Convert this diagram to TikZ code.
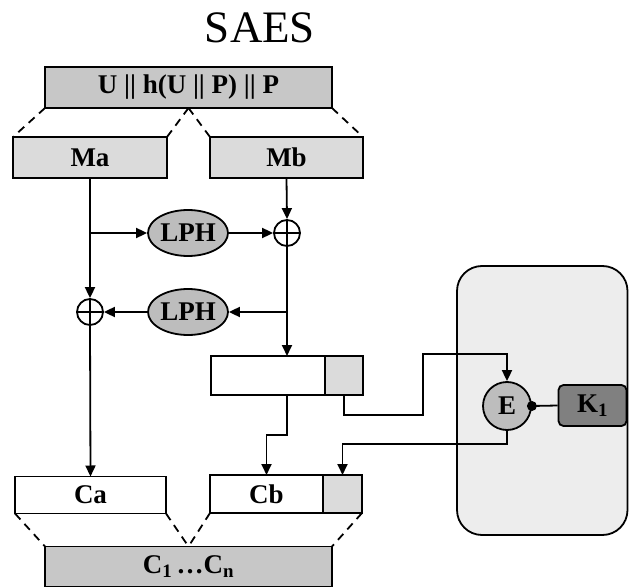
\documentclass[tikz,border=0pt]{standalone}
\usepackage{fontspec}
\setmainfont{Liberation Serif}
\usetikzlibrary{arrows.meta,shapes.geometric,calc}
\definecolor{darkbox}{gray}{0.78}
\definecolor{lightbox}{gray}{0.86}
\definecolor{ovalgray}{gray}{0.74}
\definecolor{keygray}{gray}{0.50}
\definecolor{panel}{gray}{0.93}

\begin{document}
\begin{tikzpicture}[x=1pt, y=-1pt, line width=1.8pt, >={Triangle[length=11pt,width=10pt]},
    lbl/.style={font=\fontsize{27}{30}\selectfont\bfseries},
    bar/.style={lbl, draw, inner sep=0pt, outer sep=0pt, minimum height=41},
    oval/.style={lbl, ellipse, draw, fill=ovalgray, inner sep=0pt, minimum width=80, minimum height=46},
    xor/.style={circle, draw, inner sep=0pt, minimum size=26,
        path picture={\draw[line width=1.5pt]
            (path picture bounding box.north) -- (path picture bounding box.south)
            (path picture bounding box.west) -- (path picture bounding box.east);}},
    split/.style={dash pattern=on 8pt off 6pt}]
    \useasboundingbox (0,0) rectangle (629,588);

    % key side
    \draw[fill=panel, rounded corners=25] (457,266) rectangle (627.5,535);

    \node[font=\fontsize{45}{50}\selectfont] (title) at (260,28) {SAES};

    % splitting of the input
    \node[bar, fill=darkbox, minimum width=287] (msg) at (188.5,87.5) {U || h(U || P) || P};
    \node[bar, fill=lightbox, minimum width=154] (ma) at (90,157.5) {Ma};
    \node[bar, fill=lightbox, minimum width=153] (mb) at (286.5,157.5) {Mb};
    \draw[split] (msg.south west) -- (ma.north west);
    \draw[split] (msg.south) -- (ma.north east);
    \draw[split] (msg.south) -- (mb.north west);
    \draw[split] (msg.south east) -- (mb.north east);

    % two LPH rounds
    \node[xor] (xorB) at (287,233) {};
    \node[oval] (lphA) at (188,233) {LPH};
    \node[xor] (xorA) at (90,312) {};
    \node[oval] (lphB) at (188,312) {LPH};

    \draw[->] (ma.south) -- (xorA.north);
    \draw[->] (ma.south |- lphA) -- (lphA);
    \draw[->] (lphA) -- (xorB);
    \draw[->] (mb.south) -- (xorB.north);
    \draw[->] (xorB.south |- lphB) -- (lphB);
    \draw[->] (lphB) -- (xorA);

    % register and its tag
    \node[bar, minimum width=114, minimum height=39] (reg) at (268,375.5) {};
    \node[bar, fill=lightbox, minimum width=38, minimum height=39, anchor=west] (regtag) at (reg.east) {};
    \draw[->] (xorB.south) -- (xorB.south |- reg.north);

    % encryption with K1
    \node[lbl, circle, draw, fill=ovalgray, inner sep=0pt, minimum size=48] (enc) at (507,406) {E};
    \node[lbl, draw, fill=keygray, rounded corners=5, inner sep=0pt,
          minimum width=68, minimum height=41] (key) at (592.5,405.5) {K\textsubscript{1}};
    \fill (enc.east) circle (5);
    \draw (enc.east) -- (key.west);

    % outputs
    \node[bar, fill=white, minimum width=151, minimum height=37] (ca) at (90.5,495) {Ca};
    \node[bar, fill=white, minimum width=113, minimum height=38] (cb) at (266.5,494) {Cb};
    \node[bar, fill=lightbox, minimum width=39, minimum height=38, anchor=west] (cbtag) at (cb.east) {};
    \node[bar, fill=darkbox, minimum width=287, minimum height=40] (out) at (188.5,566.5)
        {C\textsubscript{1}\,…C\textsubscript{n}};

    \coordinate (regOut) at (287,435);
    \coordinate (tagOut) at (423,415);
    \coordinate (encIn) at (507,354);
    \draw[->] (xorA.south) -- (ca.north);
    \draw[->] (reg.south -| regOut) -- (regOut) -| (cb.north);
    \draw[->] (regtag.south) |- (tagOut) |- (encIn) -- (enc.north);
    \draw[->] (enc.south) -- ++(0,13) -| (cbtag.north);

    \draw[split] (ca.south west) -- (out.north west);
    \draw[split] (ca.south east) -- (out.north);
    \draw[split] (cb.south west) -- (out.north);
    \draw[split] (cbtag.south east) -- (out.north east);
\end{tikzpicture}
\end{document}
